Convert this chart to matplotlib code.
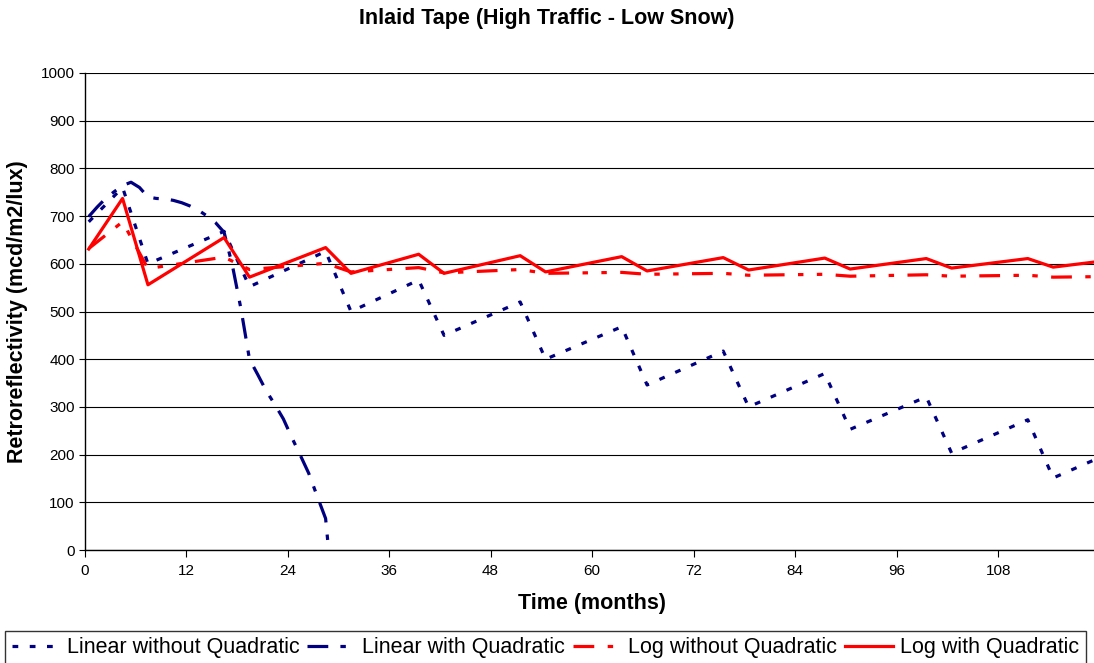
import matplotlib
matplotlib.use('Agg')
import matplotlib.pyplot as plt
import numpy as np

plt.rcParams['font.family'] = ['Liberation Sans', 'DejaVu Sans']

# sawtooth series: month (category) and retroreflectivity
months = [0, 4, 7, 16, 19, 28, 31, 39, 42, 51, 54, 63, 66, 75, 78, 87, 90, 99, 102, 111, 114, 119]
lin_no_quad = [688, 760, 600, 668, 552, 626, 500, 566, 450, 520, 400, 468, 346, 417, 300,
               370, 253, 321, 203, 273, 151, 190]
log_no_quad = [632, 688, 590, 614, 588, 601, 583, 592, 581, 588, 580, 582, 578, 580, 576,
               578, 574, 577, 574, 576, 572, 573]
log_quad = [631, 737, 556, 655, 572, 634, 580, 620, 580, 617, 583, 615, 585, 613, 587,
            612, 589, 611, 591, 611, 593, 604]

# linear with quadratic (monthly until it drops below zero)
quad_months = list(range(0, 30))
lin_quad = [699, 719, 737, 751, 764, 771, 760, 740, 737, 736, 733, 728, 721, 712, 700,
            686, 666, 595, 505, 400, 367, 333, 305, 275, 236, 199, 161, 113, 66, -120]

navy = '#000080'
red = '#FF0000'

fig = plt.figure(figsize=(10.94, 6.63), dpi=100)
ax = fig.add_axes([84.5 / 1094, 1 - 550 / 663, 1015.2 / 1094, 477 / 663])

# Excel category axis: points sit in the middle of each category
x1 = np.array(months) + 0.5
x2 = np.array(quad_months) + 0.5

lw = 2.3
ax.plot(x1, lin_no_quad, color=navy, lw=lw, linestyle=(0, (1.8, 3.6)),
        label='Linear without Quadratic')
ax.plot(x2, lin_quad, color=navy, lw=lw, linestyle=(0, (6.5, 3.8, 1.7, 3.8)),
        label='Linear with Quadratic')
ax.plot(x1, log_no_quad, color=red, lw=lw, linestyle=(0, (6.5, 4.2, 1.7, 4.2, 1.7, 4.2)),
        label='Log without Quadratic')
ax.plot(x1, log_quad, color=red, lw=lw, linestyle='-', label='Log with Quadratic')

ax.set_xlim(0, 120)
ax.set_ylim(0, 1000)
ax.set_xticks(range(0, 120, 12))
ax.set_yticks(range(0, 1001, 100))
ax.grid(axis='y', color='black', lw=0.8)
ax.set_axisbelow(True)
for s in ['top', 'right']:
    ax.spines[s].set_visible(False)
for s in ['left', 'bottom']:
    ax.spines[s].set_color('black')
    ax.spines[s].set_linewidth(1.0)
ax.tick_params(axis='both', labelsize=11, direction='out', colors='black')
ax.tick_params(axis='y', length=4, pad=3)
ax.tick_params(axis='x', length=5, pad=5)

ax.set_xlabel('Time (months)', fontsize=15.5, fontweight='bold', labelpad=11)
ax.set_ylabel('Retroreflectivity (mcd/m2/lux)', fontsize=15.5, fontweight='bold', labelpad=9)
fig.suptitle('Inlaid Tape (High Traffic - Low Snow)', fontsize=15.5, fontweight='bold', y=0.988)

leg = fig.legend(loc='upper center', bbox_to_anchor=(0.4985, 1 - 631 / 663), ncol=4,
                 fontsize=15.5, frameon=True, fancybox=False, edgecolor='black',
                 handlelength=2.25, handletextpad=0.32, columnspacing=0.35,
                 borderpad=0.3, borderaxespad=0)
leg.get_frame().set_linewidth(1.0)

fig.savefig('out.png', dpi=100)
